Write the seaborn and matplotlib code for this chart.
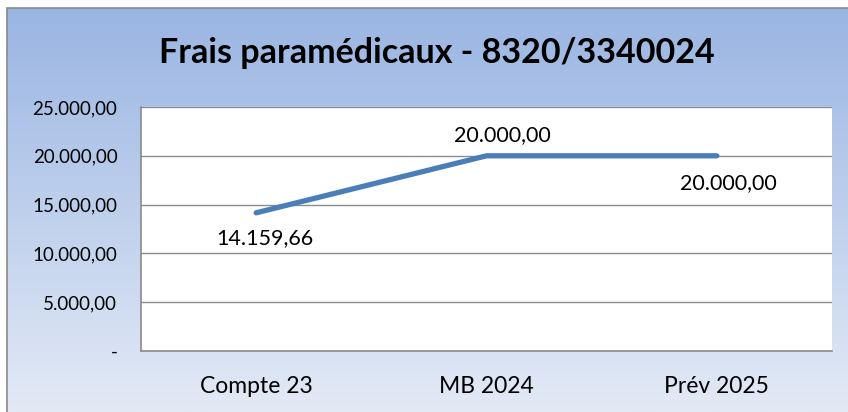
import numpy as np
import pandas as pd
import seaborn as sns
import matplotlib.pyplot as plt
from matplotlib.patches import Rectangle
from matplotlib.ticker import FuncFormatter, FixedLocator

# Data
periodes = ['Compte 23', 'MB 2024', 'Prév 2025']
montants = [14159.66, 20000.00, 20000.00]
titre = 'Frais paramédicaux - 8320/3340024'

df = pd.DataFrame({'Période': periodes, 'Montant': montants})

sns.set_style('white')
plt.rcParams['font.family'] = ['Lato', 'DejaVu Sans']


def fr_format(v, pos=None):
    if abs(v) < 1e-9:
        return '-'
    s = f'{v:,.2f}'
    return s.replace(',', 'X').replace('.', ',').replace('X', '.')


fig = plt.figure(figsize=(8.48, 4.12), dpi=100)
fig.patch.set_facecolor('white')

# gradient background of the chart area
bg = fig.add_axes([0, 0, 1, 1], zorder=-10)
grad = np.linspace(0, 1, 256).reshape(-1, 1)
top = np.array([0x98, 0xb4, 0xe2]) / 255
bot = np.array([0xe3, 0xea, 0xf6]) / 255
img = top + (bot - top) * grad[..., None]
bg.imshow(img, aspect='auto', extent=[0, 1, 0, 1], origin='upper')
bg.set_xlim(0, 1)
bg.set_ylim(0, 1)
bg.axis('off')
fig.patches.append(Rectangle((7 / 848, -0.01), 1.0, 1 - 8 / 412 + 0.01,
                             transform=fig.transFigure, fill=False,
                             edgecolor='#8a8a8a', linewidth=1.2, zorder=5))
# white margin outside the frame
fig.patches.append(Rectangle((0, 1 - 8 / 412), 1, 8 / 412, transform=fig.transFigure,
                             facecolor='white', edgecolor='none', zorder=4))
fig.patches.append(Rectangle((0, 0), 7 / 848, 1, transform=fig.transFigure,
                             facecolor='white', edgecolor='none', zorder=4))

ax = fig.add_axes([141 / 848, 61 / 412, 691 / 848, 244 / 412])
ax.set_facecolor('white')

sns.lineplot(data=df, x='Période', y='Montant', ax=ax, sort=False,
             color='#4a7ebb', linewidth=3.8, solid_capstyle='round',
             solid_joinstyle='round')

ax.set_xlim(-0.5, 2.5)
ax.set_ylim(0, 25000)
ax.set_yticks([0, 5000, 10000, 15000, 20000, 25000])
ax.yaxis.set_major_formatter(FuncFormatter(fr_format))
ax.grid(axis='y', color='#8c8c8c', linewidth=1.0)
ax.set_axisbelow(True)

ax.xaxis.set_minor_locator(FixedLocator([-0.5, 0.5, 1.5, 2.5]))
ax.tick_params(axis='x', which='major', length=0, pad=18, labelsize=16.5, colors='black')
ax.tick_params(axis='x', which='minor', length=5, width=1.2, color='#8a8a8a', direction='out')
ax.tick_params(axis='y', which='major', length=5, width=1.2, color='#8a8a8a',
               direction='out', labelsize=13.5, pad=12, labelcolor='black')

for side in ['top', 'right']:
    ax.spines[side].set_visible(False)
for side in ['left', 'bottom']:
    ax.spines[side].set_color('#8a8a8a')
    ax.spines[side].set_linewidth(1.2)

ax.set_xlabel('')
ax.set_ylabel('')

# data labels
offsets = [(6.5, -18), (11.5, 15), (8.6, -19.4)]
for i, (v, off) in enumerate(zip(montants, offsets)):
    ax.annotate(fr_format(v), (i, v), xytext=off, textcoords='offset points',
                ha='center', va='center', fontsize=15.5, color='black')

fig.text(0.515, 0.872, titre, ha='center', va='center', fontsize=24.5,
         fontweight='bold', color='black')

fig.savefig('out.png', dpi=100)
